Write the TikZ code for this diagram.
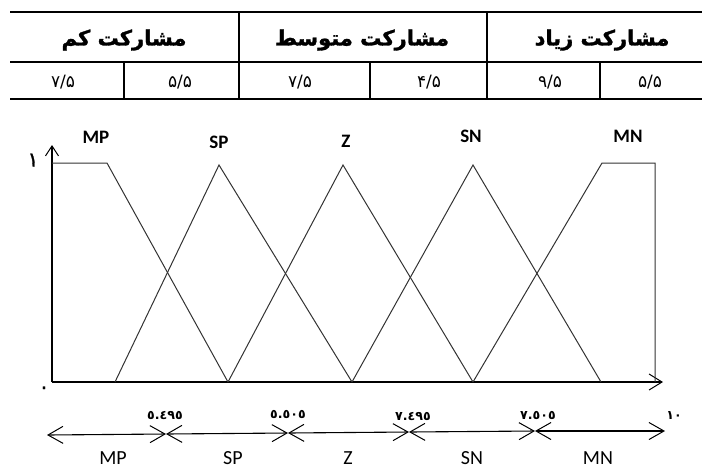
\documentclass[tikz,border=0pt]{standalone}
\usepackage{fontspec}
\setmainfont{Carlito}
\newfontfamily\arabicfont[Script=Arabic]{DejaVu Sans}
\newfontfamily\arabicheavy[Script=Arabic,FakeBold=1.5]{DejaVu Sans}
\TeXXeTstate=1
\usetikzlibrary{arrows.meta}
\tikzset{
	barb/.tip={Straight Barb[length=7.5pt,width=8.5pt,line width=0.5pt]},
	xbarb/.tip={Straight Barb[length=6.5pt,width=8pt,line width=0.5pt]},
	ybarb/.tip={Straight Barb[length=5pt,width=6.5pt,line width=0.5pt]},
}

\begin{document}
\begin{tikzpicture}[x=0.5pt,y=-0.5pt,
		rule/.style={line width=1pt},
		cell/.style={line width=0.75pt},
		curve/.style={line width=0.5pt,draw=black!80},
		axis/.style={line width=0.55pt},
		head/.style={font=\arabicheavy\bfseries\fontsize{10.5}{12}\selectfont},
		val/.style={font=\arabicfont\fontsize{8.5}{10}\selectfont},
		setname/.style={font=\bfseries\fontsize{9.5}{11}\selectfont},
		cutval/.style={font=\arabicfont\bfseries\fontsize{6.3}{7}\selectfont},
		rangename/.style={font=\fontsize{10}{12}\selectfont}]
		\useasboundingbox (0,0) rectangle (702,468);
		
		% table
		\draw[rule] (10,12) -- (702,12);
		\draw[cell] (10,62) -- (702,62);
		\draw[rule] (10,99) -- (702,99);
		\draw[cell] (239,12) -- (239,99);
		\draw[cell] (487,12) -- (487,99);
		\draw[cell] (124,62) -- (124,99);
		\draw[cell] (370,62) -- (370,99);
		\draw[cell] (600,62) -- (600,99);
		
		\node[head] (low) at (124,40) {\beginR مشارکت کم\endR};
		\node[head] (mid) at (362,40) {\beginR مشارکت متوسط\endR};
		\node[head] (high) at (602,40) {\beginR مشارکت زیاد\endR};
		
		\node[val] (v1) at (63,82) {۷/۵};
		\node[val] (v2) at (180,82) {۵/۵};
		\node[val] (v3) at (300,82) {۷/۵};
		\node[val] (v4) at (429,82) {۴/۵};
		\node[val] (v5) at (550,82) {۹/۵};
		\node[val] (v6) at (650,82) {۵/۵};
		
		% membership functions
		\coordinate (o) at (52,382);
		\coordinate (ytop) at (52,145);
		\coordinate (xend) at (663,382);
		\draw[axis,-{ybarb}] (o) -- (ytop);
		\draw[axis,-{xbarb}] (o) -- (xend);
		
		\draw[curve] (52,163) -- (107,163) -- (228,382);
		\draw[curve] (115,382) -- (219,165) -- (352,382);
		\draw[curve] (228,382) -- (343,165) -- (473,382);
		\draw[curve] (352,382) -- (473,165) -- (601,382);
		\draw[curve] (473,382) -- (602,163) -- (655,163) -- (655,382);
		
		\node[setname] (mp) at (96,137) {MP};
		\node[setname] (sp) at (219,142) {SP};
		\node[setname] (z) at (346,141) {Z};
		\node[setname] (sn) at (471,136) {SN};
		\node[setname] (mn) at (628,136) {MN};
		
		\node[val,font=\arabicheavy\fontsize{10}{12}\selectfont] (one) at (33,160) {١};
		\node[val,font=\arabicheavy\fontsize{10}{12}\selectfont] (zero) at (44,390) {٠};
		
		% ranges
		\coordinate (c0) at (47,435);
		\coordinate (c1) at (166,434);
		\coordinate (c2) at (288,433);
		\coordinate (c3) at (409,432);
		\coordinate (c4) at (535,431);
		\coordinate (c5) at (665,431);
		\foreach \a/\b in {c0/c1,c1/c2,c2/c3,c3/c4,c4/c5}
			\draw[axis,{barb}-{barb}] (\a) -- (\b);
		
		\node[cutval] (t1) at (165,415) {٥.٤٩٥};
		\node[cutval] (t2) at (288,415) {٥.٥٠٥};
		\node[cutval] (t3) at (413,416) {٧.٤٩٥};
		\node[cutval] (t4) at (538,416) {٧.٥٠٥};
		\node[cutval] (t5) at (674,415) {١٠};
		
		\node[rangename] (rmp) at (113,458) {MP};
		\node[rangename] (rsp) at (233,458) {SP};
		\node[rangename] (rz) at (348,458) {Z};
		\node[rangename] (rsn) at (472,458) {SN};
		\node[rangename] (rmn) at (598,458) {MN};
\end{tikzpicture}
\end{document}
